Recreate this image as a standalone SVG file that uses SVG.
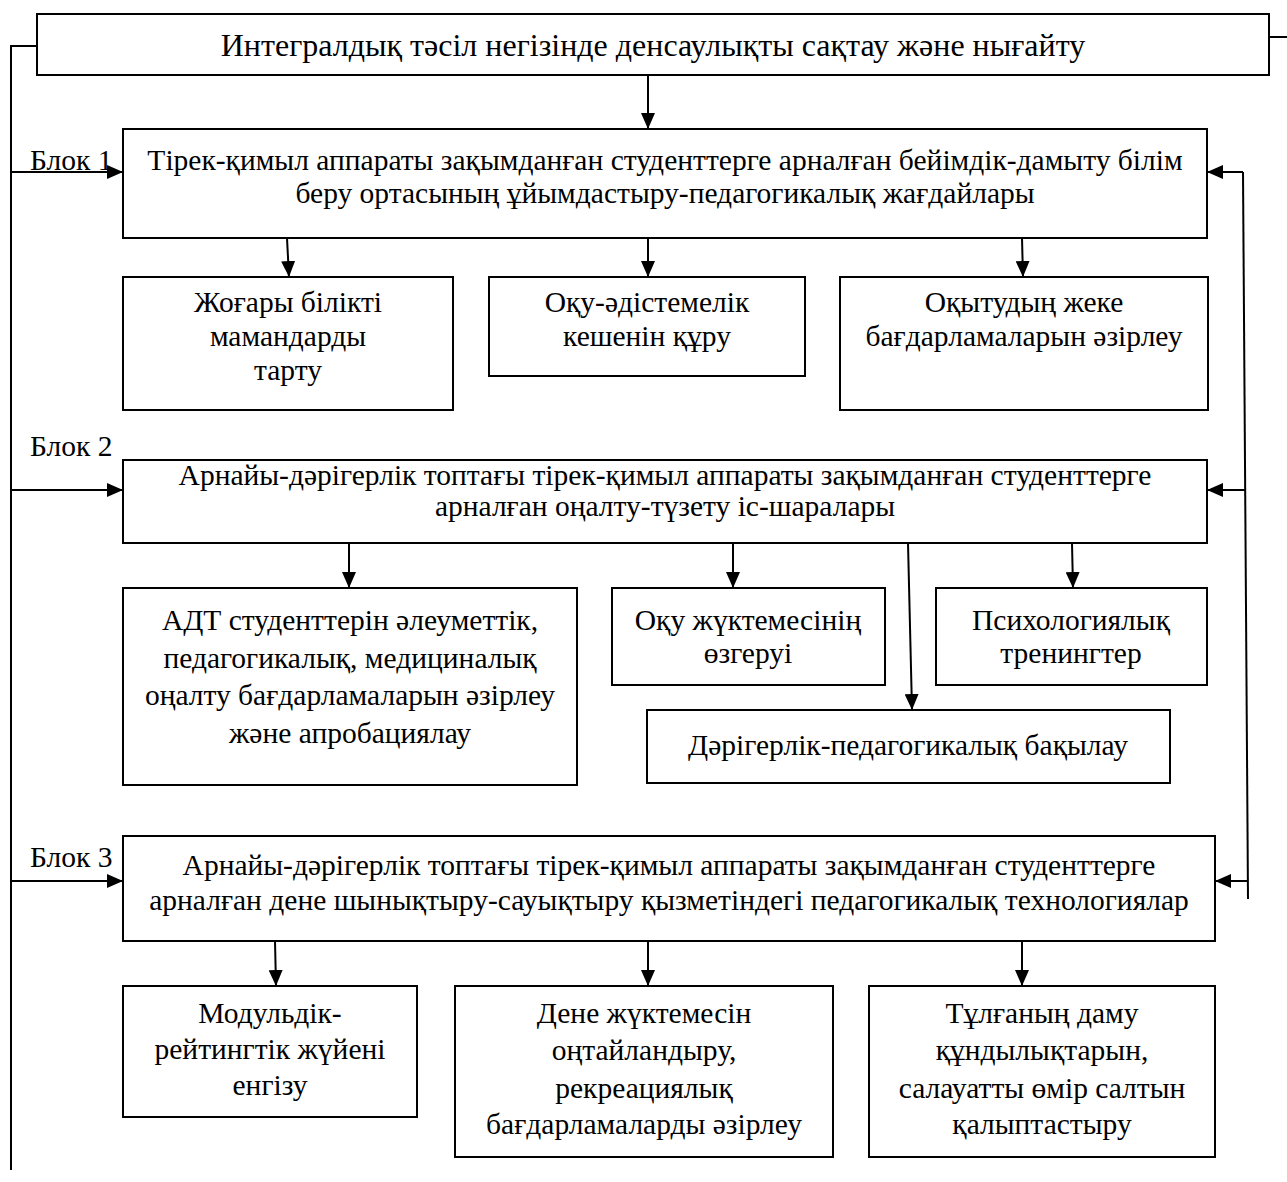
<svg xmlns="http://www.w3.org/2000/svg" width="1287" height="1182" viewBox="0 0 1287 1182">
<style>
.box{fill:#fff;stroke:#000;stroke-width:2}
.ln{fill:none;stroke:#000;stroke-width:2}
text{font-family:"Liberation Serif","Times New Roman",serif;font-size:29.5px;fill:#000}
.c{text-anchor:middle}
.big{font-size:32px}
</style>
<defs>
<marker id="ah" markerUnits="userSpaceOnUse" markerWidth="16" markerHeight="14" refX="16" refY="7" orient="auto">
<path d="M0,0 L16,7 L0,14 Z" fill="#000"/>
</marker>
</defs>
<rect width="1287" height="1182" fill="#fff"/>
<g id="connectors">
<polyline class="ln" points="37,46 11,46 11,1170"/>
<line class="ln" x1="1269" y1="37" x2="1287" y2="37"/>
<line class="ln" x1="648" y1="75" x2="648" y2="129" marker-end="url(#ah)"/>
<line class="ln" x1="11" y1="172" x2="123" y2="172" marker-end="url(#ah)"/>
<line class="ln" x1="11" y1="490" x2="123" y2="490" marker-end="url(#ah)"/>
<line class="ln" x1="11" y1="881" x2="123" y2="881" marker-end="url(#ah)"/>
<line class="ln" x1="1243" y1="172" x2="1248" y2="899"/>
<line class="ln" x1="1243" y1="172" x2="1207" y2="172" marker-end="url(#ah)"/>
<line class="ln" x1="1245" y1="490" x2="1207" y2="490" marker-end="url(#ah)"/>
<line class="ln" x1="1248" y1="881" x2="1215" y2="881" marker-end="url(#ah)"/>
<line class="ln" x1="287" y1="238" x2="289" y2="277" marker-end="url(#ah)"/>
<line class="ln" x1="648" y1="238" x2="648" y2="277" marker-end="url(#ah)"/>
<line class="ln" x1="1022" y1="238" x2="1023" y2="277" marker-end="url(#ah)"/>
<line class="ln" x1="349" y1="543" x2="349" y2="588" marker-end="url(#ah)"/>
<line class="ln" x1="733" y1="543" x2="733" y2="588" marker-end="url(#ah)"/>
<line class="ln" x1="1072" y1="543" x2="1073" y2="588" marker-end="url(#ah)"/>
<line class="ln" x1="908" y1="543" x2="912" y2="710" marker-end="url(#ah)"/>
<line class="ln" x1="275" y1="941" x2="276" y2="986" marker-end="url(#ah)"/>
<line class="ln" x1="648" y1="941" x2="648" y2="986" marker-end="url(#ah)"/>
<line class="ln" x1="1022" y1="941" x2="1022" y2="986" marker-end="url(#ah)"/>
</g>
<g id="top">
<rect class="box" x="37" y="14" width="1232" height="61"/>
<text class="c big" x="653" y="56">Интегралдық тәсіл негізінде денсаулықты сақтау және нығайту</text>
</g>
<g id="label1"><text x="30" y="170">Блок 1</text></g>
<g id="block1">
<rect class="box" x="123" y="129" width="1084" height="109"/>
<text class="c" x="665" y="170">Тірек-қимыл аппараты зақымданған студенттерге арналған бейімдік-дамыту білім</text>
<text class="c" x="665" y="203">беру ортасының ұйымдастыру-педагогикалық жағдайлары</text>
</g>
<g id="b1a">
<rect class="box" x="123" y="277" width="330" height="133"/>
<text class="c" x="288" y="312">Жоғары білікті</text>
<text class="c" x="288" y="346">мамандарды</text>
<text class="c" x="288" y="380">тарту</text>
</g>
<g id="b1b">
<rect class="box" x="489" y="277" width="316" height="99"/>
<text class="c" x="647" y="312">Оқу-әдістемелік</text>
<text class="c" x="647" y="346">кешенін құру</text>
</g>
<g id="b1c">
<rect class="box" x="840" y="277" width="368" height="133"/>
<text class="c" x="1024" y="312">Оқытудың жеке</text>
<text class="c" x="1024" y="346">бағдарламаларын әзірлеу</text>
</g>
<g id="label2"><text x="30" y="456">Блок 2</text></g>
<g id="block2">
<rect class="box" x="123" y="460" width="1084" height="83"/>
<text class="c" x="665" y="485">Арнайы-дәрігерлік топтағы тірек-қимыл аппараты зақымданған студенттерге</text>
<text class="c" x="665" y="516">арналған оңалту-түзету іс-шаралары</text>
</g>
<g id="b2a">
<rect class="box" x="123" y="588" width="454" height="197"/>
<text class="c" x="350" y="630">АДТ студенттерін әлеуметтік,</text>
<text class="c" x="350" y="668">педагогикалық, медициналық</text>
<text class="c" x="350" y="705">оңалту бағдарламаларын әзірлеу</text>
<text class="c" x="350" y="743">және апробациялау</text>
</g>
<g id="b2b">
<rect class="box" x="612" y="588" width="273" height="97"/>
<text class="c" x="748" y="630">Оқу жүктемесінің</text>
<text class="c" x="748" y="663">өзгеруі</text>
</g>
<g id="b2c">
<rect class="box" x="936" y="588" width="271" height="97"/>
<text class="c" x="1071" y="630">Психологиялық</text>
<text class="c" x="1071" y="663">тренингтер</text>
</g>
<g id="b2d">
<rect class="box" x="647" y="710" width="523" height="73"/>
<text class="c" x="908" y="755">Дәрігерлік-педагогикалық бақылау</text>
</g>
<g id="label3"><text x="30" y="867">Блок 3</text></g>
<g id="block3">
<rect class="box" x="123" y="836" width="1092" height="105"/>
<text class="c" x="669" y="875">Арнайы-дәрігерлік топтағы тірек-қимыл аппараты зақымданған студенттерге</text>
<text class="c" x="669" y="910">арналған дене шынықтыру-сауықтыру қызметіндегі педагогикалық технологиялар</text>
</g>
<g id="b3a">
<rect class="box" x="123" y="986" width="294" height="131"/>
<text class="c" x="270" y="1023">Модульдік-</text>
<text class="c" x="270" y="1059">рейтингтік жүйені</text>
<text class="c" x="270" y="1095">енгізу</text>
</g>
<g id="b3b">
<rect class="box" x="455" y="986" width="378" height="171"/>
<text class="c" x="644" y="1023">Дене жүктемесін</text>
<text class="c" x="644" y="1060">оңтайландыру,</text>
<text class="c" x="644" y="1098">рекреациялық</text>
<text class="c" x="644" y="1134">бағдарламаларды әзірлеу</text>
</g>
<g id="b3c">
<rect class="box" x="869" y="986" width="346" height="171"/>
<text class="c" x="1042" y="1023">Тұлғаның даму</text>
<text class="c" x="1042" y="1060">құндылықтарын,</text>
<text class="c" x="1042" y="1098">салауатты өмір салтын</text>
<text class="c" x="1042" y="1134">қалыптастыру</text>
</g>
</svg>
